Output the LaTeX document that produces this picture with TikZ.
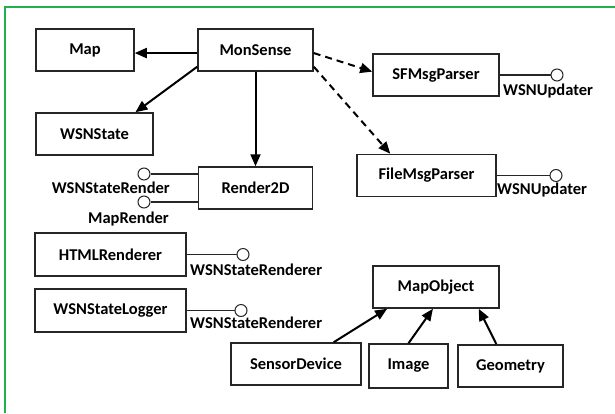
\documentclass[tikz,border=0pt]{standalone}
\usepackage{fontspec}
\setmainfont{Carlito}
\usepackage{xcolor}
\usetikzlibrary{arrows.meta}

\definecolor{framegreen}{RGB}{34,177,76}

\begin{document}
\begin{tikzpicture}[x=1pt,y=-1pt,
	every node/.style={font=\fontsize{16.5}{19}\selectfont\bfseries},
	cls/.style={draw=black!85,line width=1.5pt,minimum height=42pt,inner sep=0pt},
	uses/.style={line width=2pt,-{Triangle[length=12pt,width=10pt]}},
	dep/.style={uses,dash pattern=on 7pt off 5pt},
	iface/.style={draw=black!85,circle,line width=1pt,minimum size=12pt,inner sep=0pt},
	ifline/.style={draw=black!85,line width=1.2pt},
	iflabel/.style={inner sep=0pt}]
				%\draw[help lines] (0,0) grid (615,413);
				\useasboundingbox (0,0) rectangle (615,413);
				\draw[framegreen,line width=2pt] (5,413) -- (5,7) -- (615,7);
				
				\node[cls,minimum width=98pt] (Map) at (85,50) {Map};
				\node[cls,minimum width=115pt] (MonSense) at (255.5,50) {MonSense};
				\node[cls,minimum width=117pt] (WSNState) at (94.5,134) {WSNState};
				\node[cls,minimum width=114pt] (Render2D) at (255.5,188) {Render2D};
				\node[cls,minimum width=126pt] (SFMsgParser) at (436,75) {SFMsgParser};
				\node[cls,minimum width=139pt] (FileMsgParser) at (426.5,175.5) {FileMsgParser};
				\node[cls,minimum width=151pt,minimum height=43pt] (HTMLRenderer) at (110.5,254.5) {HTMLRenderer};
				\node[cls,minimum width=151pt,minimum height=43pt] (WSNStateLogger) at (110.5,310.5) {WSNStateLogger};
				\node[cls,minimum width=126pt] (MapObject) at (436,287) {MapObject};
				\node[cls,minimum width=130pt] (SensorDevice) at (296,364) {SensorDevice};
				\node[cls,minimum width=79pt,minimum height=44pt] (Image) at (408.5,366) {Image};
				\node[cls,minimum width=105pt] (Geometry) at (510.5,366) {Geometry};
				
				\draw[uses] (MonSense.183) -- (Map.east |- MonSense.183);
				\draw[uses] (MonSense.196) -- (WSNState.28);
				\draw[uses] (MonSense) -- (Render2D);
				\draw[dep] (MonSense.-3) -- (SFMsgParser.177);
				\draw[dep] (MonSense.-16) -- (FileMsgParser.149);
				\draw[uses] (SensorDevice.30) -- (MapObject.204);
				\draw[uses] (Image.north) -- (MapObject.262);
				\draw[uses] (Geometry.123) -- (MapObject.-27);
				
				% provided interfaces
				\node[iface] (sfIf) at (557,75) {};
				\draw[ifline] (SFMsgParser) -- (sfIf);
				\node[iflabel,anchor=west] (sfLbl) at (503,91) {WSNUpdater};
				\node[iface] (fileIf) at (556,175.5) {};
				\draw[ifline] (FileMsgParser) -- (fileIf);
				\node[iflabel,anchor=west] (fileLbl) at (497,190) {WSNUpdater};
				\node[iface] (stateIf) at (144,174) {};
				\draw[ifline] (stateIf) -- (stateIf -| Render2D.west);
				\node[iflabel,anchor=east] (stateLbl) at (170,188) {WSNStateRender};
				\node[iface] (mapIf) at (144,202) {};
				\draw[ifline] (mapIf) -- (mapIf -| Render2D.west);
				\node[iflabel,anchor=east] (mapLbl) at (169,219) {MapRender};
				\node[iface] (htmlIf) at (243,254.5) {};
				\draw[ifline] (HTMLRenderer) -- (htmlIf);
				\node[iflabel,anchor=west] (htmlLbl) at (190,270) {WSNStateRenderer};
				\node[iface] (logIf) at (241,310.5) {};
				\draw[ifline] (WSNStateLogger) -- (logIf);
				\node[iflabel,anchor=west] (logLbl) at (190,323) {WSNStateRenderer};
			\end{tikzpicture}
\end{document}
